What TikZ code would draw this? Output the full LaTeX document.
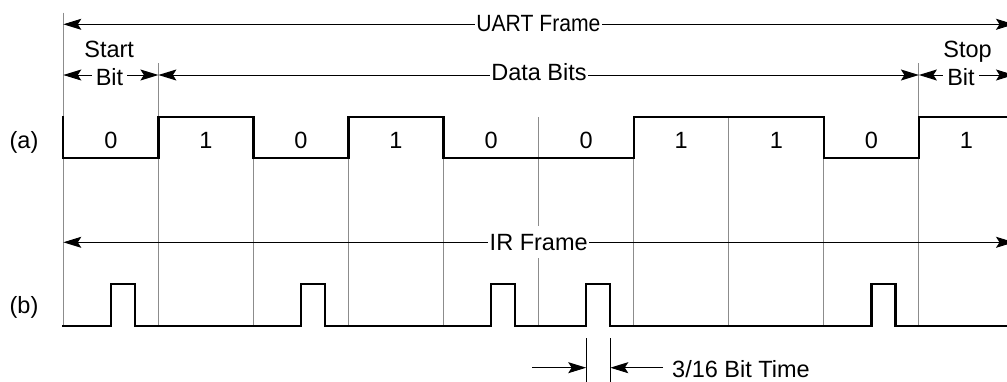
\documentclass[tikz,border=0pt]{standalone}
\usepackage{fontspec}
\setmainfont{Liberation Sans}
\usetikzlibrary{arrows.meta}
\begin{document}
\begin{tikzpicture}[x=1pt,y=-1pt,
  every node/.style={font=\fontsize{23.5}{28}\selectfont, inner sep=0pt},
  wave/.style={line width=2.3pt, line join=miter, line cap=rect},
  gridline/.style={line width=1pt, draw=black!45},
  tipa/.tip={Stealth[length=18pt,width=11pt,inset=3.5pt]},
  dimboth/.style={line width=1pt, tipa-tipa},
  dimone/.style={line width=1pt, -tipa},
  tick/.style={line width=1pt},
  lab/.style={fill=white, inner xsep=1.5pt, inner ysep=2pt, anchor=base},
  txt/.style={anchor=base}
]
\useasboundingbox (0,0) rectangle (1007,381);
\clip (0,0) rectangle (1007,381);

% grid lines
\draw[gridline] (63.3,12.7) -- (63.3,326);
\draw[gridline] (158.4,63) -- (158.4,326);
\draw[gridline] (918.9,63) -- (918.9,326);
\foreach \x in {253.4,348.5,443.6,538.7,633.7,728.8,823.9}
  \draw[gridline] (\x,117) -- (\x,326);

% dimension coordinates
\coordinate (uartL) at (63.3,24.3);
\coordinate (uartR) at (1014,24.3);
\coordinate (startL) at (63.3,75);
\coordinate (startR) at (158.4,75);
\coordinate (dataL) at (158.4,75);
\coordinate (dataR) at (918.9,75);
\coordinate (stopL) at (918.9,75);
\coordinate (stopR) at (1014,75);
\coordinate (irL) at (63.3,242.3);
\coordinate (irR) at (1014,242.3);
\coordinate (pulseL) at (586.2,367.7);
\coordinate (pulseR) at (610.3,367.7);
\coordinate (farL) at (532,367.7);
\coordinate (farR) at (663,367.7);
\coordinate (tickLa) at (586.2,338);
\coordinate (tickLb) at (586.2,384);
\coordinate (tickRa) at (610.3,338);
\coordinate (tickRb) at (610.3,384);

\draw[dimboth] (uartL) -- (uartR);
\draw[dimboth] (startL) -- (startR);
\draw[dimboth] (dataL) -- (dataR);
\draw[dimboth] (stopL) -- (stopR);
\draw[dimboth] (irL) -- (irR);
\draw[tick] (tickLa) -- (tickLb);
\draw[tick] (tickRa) -- (tickRb);
\draw[dimone] (farL) -- (pulseL);
\draw[dimone] (farR) -- (pulseR);

% labels on dimension lines
\node[lab] (uartlab) at (538.4,31) {\scalebox{0.9}[1]{UART Frame}};
\node[lab] (datalab) at (539,80.7) {Data Bits};
\node[lab, inner xsep=4pt] (startbit) at (109.5,85) {Bit};
\node[lab, inner xsep=4pt] (stopbit) at (961,85) {Bit};
\node[txt] (starttxt) at (109.2,57.8) {Start};
\node[txt] (stoptxt) at (967.5,57.8) {Stop};
\node[lab, inner ysep=8pt] (irlab) at (538.7,250) {IR Frame};
\node[anchor=base west] (bittime) at (672,377.8) {3/16 Bit Time};

% row labels
\node[txt] (rowa) at (24,148) {(a)};
\node[txt] (rowb) at (24,313.5) {(b)};

% bit values
\foreach \b [count=\i from 0] in {0,1,0,1,0,0,1,1,0,1}
  \node[txt] (bit\i) at (63.3+95.07*\i+47.5,148.3) {\b};

% waveform (a)
\draw[wave] (63.3,117) -- (63.3,158) -- (158.4,158) -- (158.4,117) -- (253.4,117)
  -- (253.4,158) -- (348.5,158) -- (348.5,117) -- (443.6,117) -- (443.6,158)
  -- (633.7,158) -- (633.7,117) -- (823.9,117) -- (823.9,158) -- (918.9,158)
  -- (918.9,117) -- (1012,117);

% waveform (b)
\draw[wave] (63.3,326)
  -- (110.85,326) -- (110.85,284.3) -- (135.0,284.3) -- (135.0,326)
  -- (300.95,326) -- (300.95,284.3) -- (325.1,284.3) -- (325.1,326)
  -- (491.15,326) -- (491.15,284.3) -- (515.3,284.3) -- (515.3,326)
  -- (586.2,326) -- (586.2,284.3) -- (610.3,284.3) -- (610.3,326)
  -- (871.35,326) -- (871.35,284.3) -- (895.5,284.3) -- (895.5,326)
  -- (1012,326);
\end{tikzpicture}
\end{document}
